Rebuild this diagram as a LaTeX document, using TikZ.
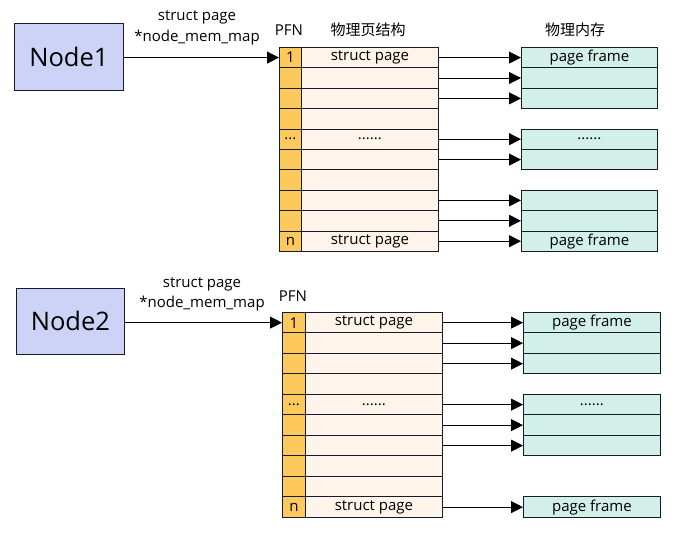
\documentclass[tikz,border=0pt]{standalone}
\usepackage{fontspec}
\setmainfont{Open Sans}
\newfontfamily\cjk{Noto Sans CJK SC}
\usetikzlibrary{arrows.meta}
\definecolor{nodefill}{HTML}{CCD3F7}
\definecolor{pfnfill}{HTML}{FDC95A}
\definecolor{spfill}{HTML}{FEF4EA}
\definecolor{memfill}{HTML}{D2EFE8}
\definecolor{edge}{HTML}{151A2C}
\newcommand{\mydotsA}{...}
\newcommand{\mydotsB}{......}
\tikzset{
  nodebox/.style={draw=edge, line width=0.8pt, fill=nodefill, inner sep=0pt, anchor=north west, font=\fontsize{25.5}{28}\selectfont},
  cellbase/.style={draw=edge, line width=0.8pt, inner sep=0pt, anchor=north west, font=\fontsize{15}{16}\selectfont},
  pfncell/.style={cellbase, fill=pfnfill},
  spcell/.style={cellbase, fill=spfill},
  memcell/.style={cellbase, fill=memfill},
  lbl/.style={inner sep=0pt, font=\fontsize{15}{16}\selectfont},
  arr/.style={draw=black, line width=0.8pt, -{Triangle[length=12pt,width=12pt,fill=black]}},
}
\begin{document}
\begin{tikzpicture}[x=1pt,y=-1pt]
\useasboundingbox (0,0) rectangle (686,534);
% ---------- section 1 ----------
\node[nodebox, minimum width=109pt, minimum height=67pt] (n1) at (14,23) {Node1};
\node[lbl] (l1a) at (197,17) {struct page};
\node[lbl] (l1b) at (197,38) {*node\_mem\_map};
\node[lbl] (pfn1) at (289,30) {PFN};
\node[lbl] (h1a) at (368,30) {\cjk 物理页结构};
\node[lbl] (h1b) at (575,30) {\cjk 物理内存};
\foreach \i/\p/\s in {1/1/struct page,2//,3//,4//,5/\mydotsA/\mydotsB,6//,7//,8//,9//,10/n/struct page}{
  \node[pfncell, minimum width=22pt, minimum height=20.4pt] (ap\i) at (279,{47+(\i-1)*20.4}) {\p};
  \node[spcell, minimum width=137pt, minimum height=20.4pt] (as\i) at (301,{47+(\i-1)*20.4}) {\s};
}
\foreach \i/\t in {1/page frame,2/,3/,5/\mydotsB,6/,8/,9/,10/page frame}{
  \node[memcell, minimum width=136pt, minimum height=20.4pt] (am\i) at (521,{47+(\i-1)*20.4}) {\t};
}
\draw[arr] (n1.east |- ap1.west) -- (ap1.west);
\foreach \i in {1,2,3,5,6,8,9,10}{
  \draw[arr] (as\i.east) -- (am\i.west);
}
% ---------- section 2 ----------
\node[nodebox, minimum width=108pt, minimum height=66pt] (n2) at (16,288) {Node2};
\node[lbl] (l2a) at (202,284) {struct page};
\node[lbl] (l2b) at (202,304) {*node\_mem\_map};
\node[lbl] (pfn2) at (293,296) {PFN};
\foreach \i/\p/\s in {1/1/struct page,2//,3//,4//,5/\mydotsA/\mydotsB,6//,7//,8//,9//,10/n/struct page}{
  \node[pfncell, minimum width=23pt, minimum height=20.5pt] (bp\i) at (282,{312+(\i-1)*20.5}) {\p};
  \node[spcell, minimum width=137pt, minimum height=20.5pt] (bs\i) at (305,{312+(\i-1)*20.5}) {\s};
}
\foreach \i/\t in {1/page frame,2/,3/,5/\mydotsB,6/,7/,10/page frame}{
  \node[memcell, minimum width=137pt, minimum height=20.5pt] (bm\i) at (523,{312+(\i-1)*20.5}) {\t};
}
\draw[arr] (n2.east |- bp1.west) -- (bp1.west);
\foreach \i in {1,2,3,5,6,7,10}{
  \draw[arr] (bs\i.east) -- (bm\i.west);
}
\end{tikzpicture}
\end{document}
